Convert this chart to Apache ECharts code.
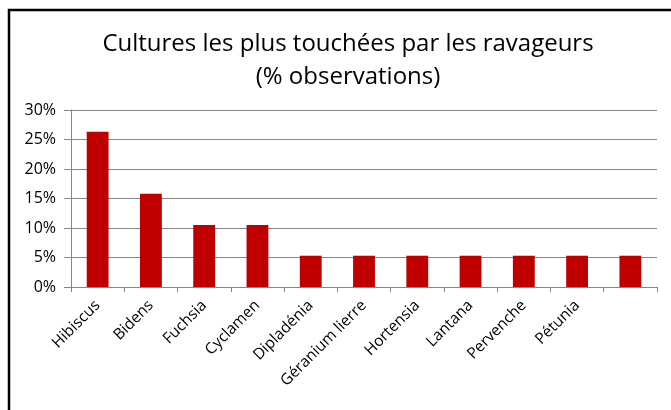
<!DOCTYPE html>
<html><head><meta charset="utf-8">
<script src="https://cdn.jsdelivr.net/npm/echarts@6/dist/echarts.min.js"></script>
<style>html,body{margin:0;padding:0;background:#fff}#c{width:671px;height:410px}</style>
</head><body><div id="c"></div>
<script>
const categories = ["Hibiscus","Bidens","Fuchsia","Cyclamen","Dipladénia","Géranium lierre","Hortensia","Lantana","Pervenche","Pétunia",""];
const values = [26.3,15.8,10.5,10.5,5.3,5.3,5.3,5.3,5.3,5.3,5.3];
const yTicks = [0,5,10,15,20,25,30];
const titleLines = ["Cultures les plus touchées par les ravageurs","(% observations)"];

const chart = echarts.init(document.getElementById('c'), null, {renderer:'canvas'});
chart.setOption({
  animation:false,
  backgroundColor:'#fff',
  graphic:[{type:'rect',shape:{x:9,y:10,width:700,height:500},style:{fill:'none',stroke:'#000',lineWidth:2.5},silent:true}],
  title:{text:titleLines.join('\n'),left:343,textAlign:'center',top:23,
    textStyle:{fontFamily:'Open Sans',fontSize:24,fontWeight:'normal',color:'#000',lineHeight:33}},
  grid:{left:71,right:14,top:110,bottom:123,containLabel:false},
  xAxis:{type:'category',data:categories,
    axisLine:{lineStyle:{color:'#868686',width:1}},
    axisTick:{show:true,alignWithLabel:false,length:5,lineStyle:{color:'#868686'}},
    axisLabel:{interval:0,rotate:45,fontFamily:'Open Sans',fontSize:15.5,color:'#000',margin:16}},
  yAxis:{type:'value',min:yTicks[0],max:yTicks[yTicks.length-1],interval:5,
    axisLine:{show:true,lineStyle:{color:'#868686'}},
    axisTick:{show:true,length:7,inside:false,lineStyle:{color:'#868686'}},
    splitLine:{lineStyle:{color:'#868686',width:1}},
    axisLabel:{formatter:v=>v+'%',fontFamily:'Open Sans',fontSize:16,color:'#000',margin:15}},
  series:[{type:'bar',data:values,barCategoryGap:'59%',itemStyle:{color:'#c00000'}}]
});
</script></body></html>
